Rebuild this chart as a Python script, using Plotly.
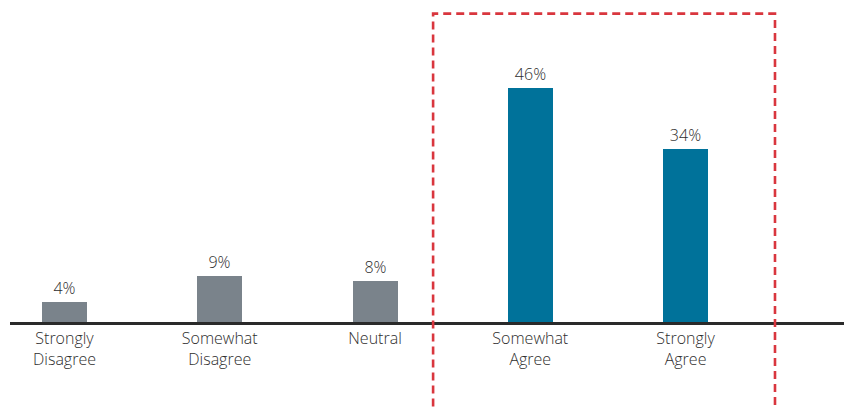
import plotly.graph_objects as go

categories = ["Strongly<br>Disagree", "Somewhat<br>Disagree", "Neutral", "Somewhat<br>Agree", "Strongly<br>Agree"]
values = [4, 9, 8, 46, 34]
labels = ["4%", "9%", "8%", "46%", "34%"]
colors = ["#7a838b", "#7a838b", "#7a838b", "#00729a", "#00729a"]

FONT = "Open Sans, Lato, sans-serif"
TXT = "#2e2e2e"

fig = go.Figure()
fig.add_trace(go.Bar(
    x=categories, y=values, text=labels, textposition="outside",
    marker=dict(color=colors, line=dict(width=0)),
    width=0.29, cliponaxis=False,
    textfont=dict(family=FONT, size=16, color=TXT, weight=300),
))

fig.add_shape(type="rect", xref="x", yref="paper",
              x0=2.374, x1=4.576, y0=-0.5, y1=0.982,
              line=dict(color="#d9363e", width=2.6, dash="8px,5px"))

fig.update_layout(
    width=844, height=400,
    margin=dict(l=2, r=0, t=0, b=86),
    paper_bgcolor="white", plot_bgcolor="white",
    showlegend=False,
    font=dict(family=FONT, size=16, color=TXT, weight=300),
    bargap=0,
)
fig.update_xaxes(range=[-0.351, 5.072], showline=True, linecolor="#2a2a2a", linewidth=2.5,
                 showgrid=False, ticks="",
                 tickfont=dict(family=FONT, size=16, color=TXT, weight=300))
fig.update_yaxes(range=[0, 61.8], visible=False, showgrid=False, zeroline=False)

fig.write_html("out.html")
